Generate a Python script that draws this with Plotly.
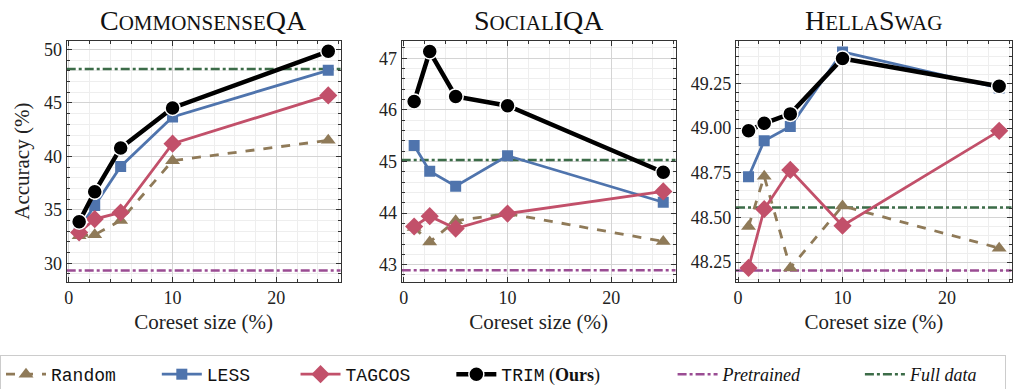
import plotly.graph_objects as go

# ---------------- data ----------------
coreset = [1, 2.5, 5, 10, 25]

csqa_random = [32.56, 32.66, 34.0, 39.6, 41.5]
csqa_less = [33.2, 35.4, 39.06, 43.69, 48.06]
csqa_tagcos = [32.88, 34.13, 34.75, 41.19, 45.71]
csqa_trim = [33.88, 36.69, 40.79, 44.53, 49.84]
csqa_pretrained = 29.31
csqa_full = 48.19

siqa_random = [43.72, 43.44, 43.85, 43.99, 43.45]
siqa_less = [45.31, 44.81, 44.52, 45.11, 44.21]
siqa_tagcos = [43.74, 43.94, 43.70, 43.99, 44.42]
siqa_trim = [46.16, 47.13, 46.26, 46.08, 44.79]
siqa_pretrained = 42.89
siqa_full = 45.03

hs_random = [48.449, 48.73, 48.217, 48.564, 48.328]
hs_less = [48.728, 48.93, 49.01, 49.427, 49.225]
hs_tagcos = [48.217, 48.546, 48.766, 48.454, 48.985]
hs_trim = [48.985, 49.027, 49.08, 49.39, 49.235]
hs_pretrained = 48.203
hs_full = 48.555

x_ticks = [0, 10, 20]
csqa_yticks = [30, 35, 40, 45, 50]
siqa_yticks = [43, 44, 45, 46, 47]
hs_yticks = [48.25, 48.50, 48.75, 49.00, 49.25]

# ---------------- styles ----------------
C_RANDOM = "#8f7a58"
C_LESS = "#4f74ad"
C_TAGCOS = "#c2506a"
C_TRIM = "#000000"
C_PRE = "#9a4c93"
C_FULL = "#3c6c48"

SERIF = "Liberation Serif"
MONO = "Liberation Mono"

W, H = 1016, 389

def px_x(a, b):
    return [a / W, b / W]

def px_y(top, bottom):
    return [1 - bottom / H, 1 - top / H]

domains_x = [px_x(66.7, 340.7), px_x(401.7, 675.7), px_x(736, 1011.7)]
domain_y = px_y(40.7, 281.7)

SC = 'style="font-size:21px"'
panels = [
    dict(title=f'C<span {SC}>OMMONSENSE</span>QA',
         random=csqa_random, less=csqa_less, tagcos=csqa_tagcos, trim=csqa_trim,
         pre=csqa_pretrained, full=csqa_full, yticks=csqa_yticks,
         yrange=[28.27, 50.83], yminor=1, fmt=""),
    dict(title=f'S<span {SC}>OCIAL</span>IQA',
         random=siqa_random, less=siqa_less, tagcos=siqa_tagcos, trim=siqa_trim,
         pre=siqa_pretrained, full=siqa_full, yticks=siqa_yticks,
         yrange=[42.67, 47.34], yminor=0.2, fmt=""),
    dict(title=f'H<span {SC}>ELLA</span>S<span {SC}>WAG</span>',
         random=hs_random, less=hs_less, tagcos=hs_tagcos, trim=hs_trim,
         pre=hs_pretrained, full=hs_full, yticks=hs_yticks,
         yrange=[48.14, 49.49], yminor=0.05, fmt=".2f"),
]

def pad(k):
    return "&nbsp;" * k

fig = go.Figure()

X_RANGE = [-0.2, 26.2]

for i, p in enumerate(panels):
    n = "" if i == 0 else str(i + 1)
    xa, ya = "x" + n, "y" + n
    show = (i == 0)
    fig.add_trace(go.Scatter(x=X_RANGE, y=[p["pre"], p["pre"]], mode="lines",
                             line=dict(color=C_PRE, width=2.5, dash="dashdot"),
                             name="<i>Pretrained</i>" + pad(12), legendrank=5, showlegend=show,
                             xaxis=xa, yaxis=ya, hoverinfo="skip"))
    fig.add_trace(go.Scatter(x=X_RANGE, y=[p["full"], p["full"]], mode="lines",
                             line=dict(color=C_FULL, width=2.5, dash="dashdot"),
                             name="<i>Full data</i>" + pad(5), legendrank=6, showlegend=show,
                             xaxis=xa, yaxis=ya, hoverinfo="skip"))
    fig.add_trace(go.Scatter(x=coreset, y=p["random"], mode="lines+markers",
                             line=dict(color=C_RANDOM, width=2.8, dash="dash"),
                             marker=dict(symbol="triangle-up", size=13, color=C_RANDOM),
                             name=f'<span style="font-family:{MONO}">Random</span>' + pad(8),
                             legendrank=1, showlegend=show, xaxis=xa, yaxis=ya))
    fig.add_trace(go.Scatter(x=coreset, y=p["less"], mode="lines+markers",
                             line=dict(color=C_LESS, width=2.8),
                             marker=dict(symbol="square", size=11, color=C_LESS),
                             name=f'<span style="font-family:{MONO}">LESS</span>' + pad(9),
                             legendrank=2, showlegend=show, xaxis=xa, yaxis=ya))
    fig.add_trace(go.Scatter(x=coreset, y=p["tagcos"], mode="lines+markers",
                             line=dict(color=C_TAGCOS, width=2.8),
                             marker=dict(symbol="diamond", size=14, color=C_TAGCOS),
                             name=f'<span style="font-family:{MONO}">TAGCOS</span>' + pad(8),
                             legendrank=3, showlegend=show, xaxis=xa, yaxis=ya))
    fig.add_trace(go.Scatter(x=coreset, y=p["trim"], mode="lines+markers",
                             line=dict(color=C_TRIM, width=4.5),
                             marker=dict(symbol="circle", size=15, color=C_TRIM,
                                         line=dict(color="white", width=1.5)),
                             name=f'<span style="font-family:{MONO}">TRIM</span> (<b>Ours</b>)' + pad(15),
                             legendrank=4, showlegend=show, xaxis=xa, yaxis=ya))

    axis_common = dict(showline=True, linecolor="#333333", linewidth=1.2, mirror="allticks",
                       ticks="inside", ticklen=5, tickwidth=1, tickcolor="#333333",
                       showgrid=True, gridcolor="#d4d4d4", gridwidth=1, zeroline=False,
                       automargin=False,
                       tickfont=dict(family=SERIF, size=18, color="#222222"))
    fig.layout["xaxis" + n] = dict(
        axis_common, domain=domains_x[i], range=X_RANGE, tickvals=x_ticks,
        anchor=ya,
        minor=dict(dtick=2, tick0=0, ticks="inside", ticklen=3, tickcolor="#333333",
                   showgrid=True, gridcolor="#eeeeee", gridwidth=1),
        title=dict(text="Coreset size (%)", font=dict(family=SERIF, size=21, color="#222222"),
                   standoff=6),
    )
    fig.layout["yaxis" + n] = dict(
        axis_common, domain=domain_y, range=p["yrange"], tickvals=p["yticks"],
        tickformat=p["fmt"], anchor=xa,
        minor=dict(dtick=p["yminor"], tick0=0, ticks="inside", ticklen=3, tickcolor="#333333",
                   showgrid=True, gridcolor="#eeeeee", gridwidth=1),
    )
    fig.add_annotation(text=p["title"], xref="paper", yref="paper",
                       x=sum(domains_x[i]) / 2, y=1 - 21 / H, xanchor="center", yanchor="middle",
                       showarrow=False, font=dict(family=SERIF, size=28, color="#111111"))

fig.layout.yaxis.title = dict(text="Accuracy (%)", font=dict(family=SERIF, size=21, color="#222222"),
                              standoff=8)

fig.update_layout(
    width=W, height=H, margin=dict(l=0, r=0, t=0, b=0, autoexpand=False),
    plot_bgcolor="white", paper_bgcolor="white",
    font=dict(family=SERIF, size=18, color="#111111"),
    legend=dict(orientation="h", x=0.0, xanchor="left", y=1 - 355 / H, yanchor="top",
                bordercolor="#cccccc", borderwidth=1, bgcolor="white",
                font=dict(family=SERIF, size=18, color="#111111"),
                itemwidth=40, traceorder="normal"),
    showlegend=True,
)

fig.write_html("out.html", config={"displayModeBar": False},
               post_script="document.body.style.margin='0';document.body.style.overflow='hidden';")
